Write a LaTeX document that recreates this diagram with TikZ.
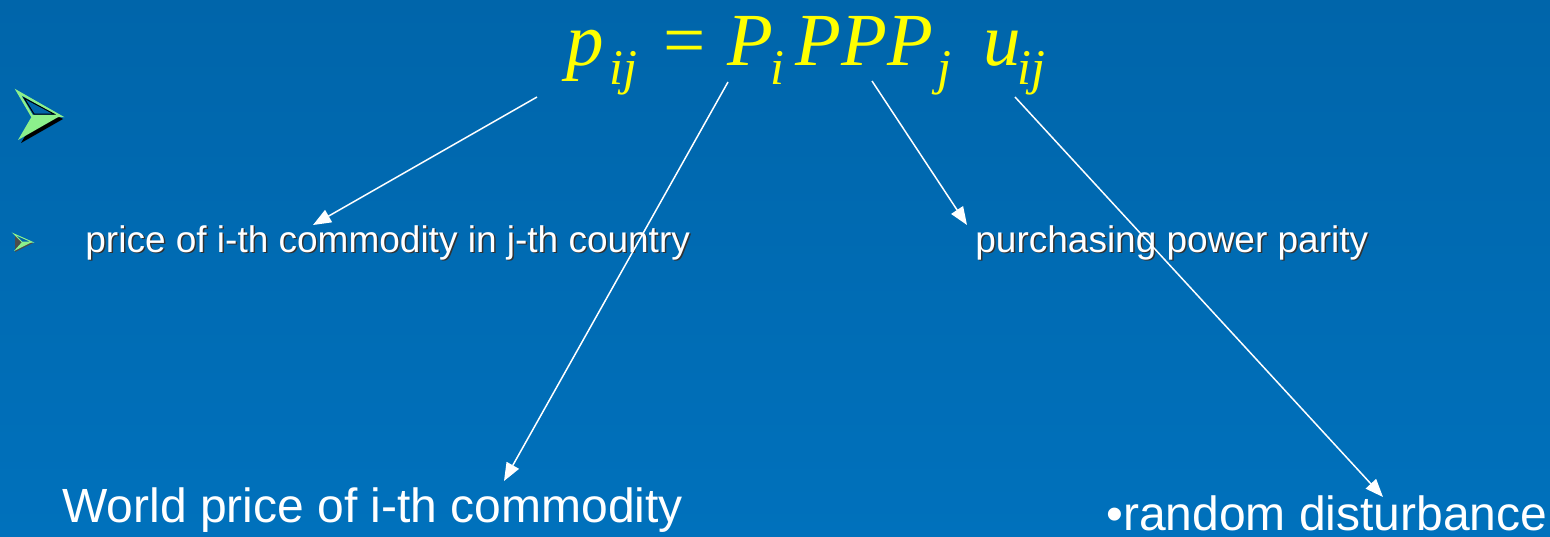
\documentclass[tikz,border=0pt]{standalone}
\usepackage{fontspec}
\setmainfont{Liberation Sans}
\newfontfamily\tms{Liberation Serif}
\usetikzlibrary{arrows.meta}
\definecolor{bgtop}{RGB}{0,101,170}
\definecolor{bgbot}{RGB}{0,113,188}
\definecolor{fyellow}{RGB}{255,255,0}
\definecolor{bgreen}{RGB}{140,240,140}
\begin{document}
\begin{tikzpicture}[x=0.5pt,y=-0.5pt,
  lbl/.style={inner sep=0pt,anchor=base west,text=white},
  shd/.style={inner sep=0pt,anchor=base west,text=black!80},
  smalltxt/.style={font=\fontsize{18.5}{22}\selectfont},
  bigtxt/.style={font=\fontsize{24}{28}\selectfont},
  fmain/.style={inner sep=0pt,anchor=base west,text=fyellow,font=\tms\itshape\fontsize{37.5}{40}\selectfont},
  fsub/.style={inner sep=0pt,anchor=base west,text=fyellow,font=\tms\itshape\fontsize{25}{26}\selectfont},
  conn/.style={draw=white,line width=0.75pt,-{Triangle[length=9pt,width=7pt]}}]
\useasboundingbox (0,0) rectangle (1550,536);
\shade[top color=bgtop,bottom color=bgbot] (0,0) rectangle (1550,536);
% formula
\node[fmain] (fp) at (566,65) {p};
\node[fsub] (fpij) at (609,84) {ij};
\node[fmain,font=\tms\upshape\fontsize{37.5}{40}\selectfont] (feq) at (663,65) {=};
\node[fmain] (fP) at (727,65) {P};
\node[fsub] (fPi) at (770,84) {i};
\node[fmain] (fPPP) at (795,65) {PPP};
\node[fsub] (fPPPj) at (937,84) {j};
\node[fmain] (fu) at (983,65) {u};
\node[fsub] (fuij) at (1017,84) {ij};
% big bullet
\fill[black] (21,95) -- (63,119) -- (21,143) -- (35,119) -- cycle;
\fill[bgtop] (18,92) -- (60,116) -- (32,116) -- cycle;
\fill[bgreen] (32,116) -- (60,116) -- (18,140) -- cycle;
\draw[bgreen,line width=1.2pt,line join=miter] (18,92) -- (60,116) -- (32,116) -- cycle;
\draw[black,line width=0.5pt] (24,98) -- (54,114) -- (34,114) -- cycle;
% small bullet
\fill[black!70] (15,235) -- (33,243) -- (15,252) -- cycle;
\fill[bgtop] (14,234) -- (32,242) -- (22,242) -- cycle;
\fill[bgreen] (22,242) -- (32,242) -- (14,251) -- cycle;
\draw[bgreen,line width=0.5pt] (14,234) -- (32,242) -- (22,242) -- cycle;
% texts
\node[shd,smalltxt] (t1s) at (86.5,253.5) {price of i-th commodity in j-th country};
\node[lbl,smalltxt] (t1) at (85,252) {price of i-th commodity in j-th country};
\node[shd,smalltxt] (t3s) at (976.5,253.5) {purchasing power parity};
\node[lbl,smalltxt] (t3) at (975,252) {purchasing power parity};
\node[lbl,bigtxt] (t2) at (62,522) {World price of i-th commodity};
\node[lbl,bigtxt] (t4) at (1106,530) {\textbullet random disturbance};
% connectors
\coordinate (s1) at (537,97);
\coordinate (s2) at (728,82);
\coordinate (s3) at (872,81);
\coordinate (s4) at (1015,97);
\coordinate (e1) at (313,225);
\coordinate (e2) at (504,481);
\coordinate (e3) at (967,225);
\coordinate (e4) at (1383,497);
\draw[conn] (s1) -- (e1);
\draw[conn] (s2) -- (e2);
\draw[conn] (s3) -- (e3);
\draw[conn] (s4) -- (e4);
\end{tikzpicture}
\end{document}
